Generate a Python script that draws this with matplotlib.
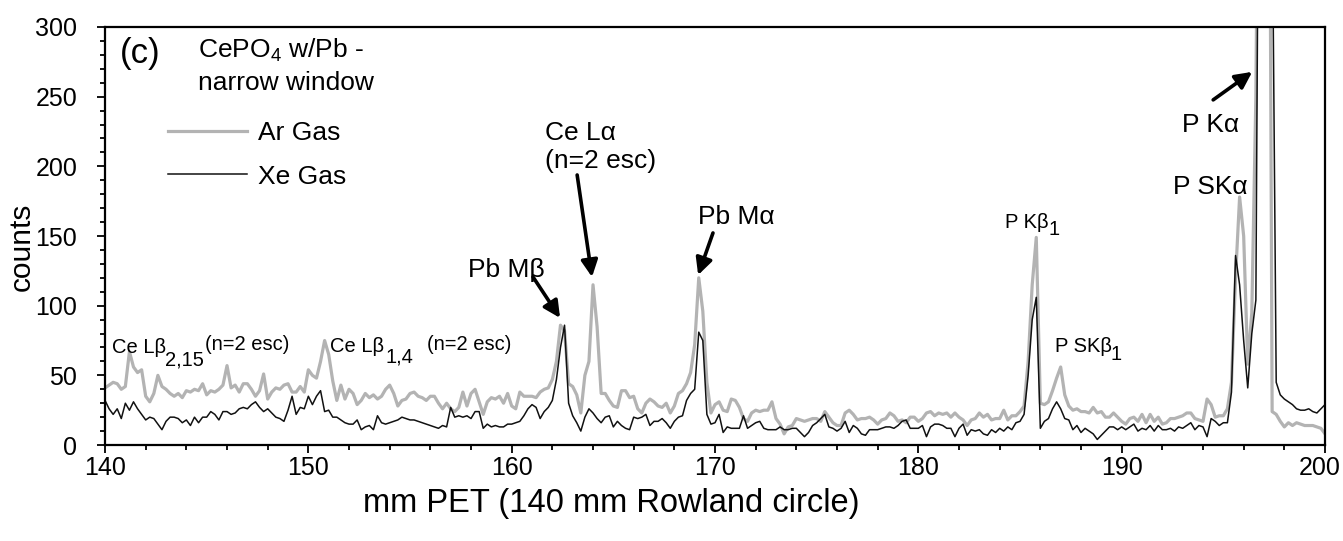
import numpy as np
import matplotlib
matplotlib.use("Agg")
import matplotlib.pyplot as plt
from matplotlib.ticker import MultipleLocator
from matplotlib.transforms import ScaledTranslation

plt.rcParams['font.family'] = ['Liberation Sans', 'DejaVu Sans']
plt.rcParams['mathtext.fontset'] = 'custom'
plt.rcParams['mathtext.rm'] = 'Liberation Sans'
plt.rcParams['mathtext.it'] = 'Liberation Sans'

# spectrometer position (mm PET), 0.2 mm steps from 140 to 200
x_mm = np.linspace(140, 200, 301)

# Ar gas counts
ar_gas = [
    41, 43, 45, 44, 40, 42, 67, 56, 52, 54,
    35, 31, 37, 50, 42, 40, 37, 35, 37, 34,
    39, 38, 40, 39, 44, 36, 39, 38, 40, 43,
    57, 41, 43, 38, 44, 44, 40, 35, 39, 51,
    33, 38, 41, 40, 43, 44, 38, 38, 42, 38,
    54, 50, 48, 60, 75, 65, 46, 32, 43, 33,
    40, 37, 29, 32, 37, 34, 36, 33, 35, 40,
    43, 37, 28, 32, 33, 37, 38, 35, 34, 32,
    35, 35, 30, 26, 30, 26, 24, 27, 38, 28,
    37, 40, 31, 22, 31, 34, 33, 35, 30, 37,
    28, 26, 38, 35, 35, 35, 34, 38, 40, 41,
    47, 60, 86, 82, 44, 42, 36, 23, 50, 60,
    115, 85, 37, 37, 32, 28, 27, 39, 39, 34,
    35, 26, 23, 30, 33, 31, 28, 27, 30, 23,
    28, 37, 39, 44, 52, 72, 120, 96, 45, 23,
    29, 31, 25, 24, 33, 32, 27, 19, 17, 23,
    25, 24, 25, 25, 31, 19, 15, 8, 13, 14,
    19, 18, 17, 18, 19, 19, 17, 24, 20, 16,
    14, 14, 23, 25, 22, 18, 19, 19, 20, 18,
    15, 18, 19, 23, 21, 17, 18, 16, 20, 20,
    17, 19, 23, 24, 21, 23, 22, 23, 20, 23,
    20, 18, 14, 18, 19, 23, 20, 22, 18, 19,
    19, 25, 18, 21, 21, 24, 28, 60, 115, 149,
    30, 29, 31, 39, 48, 56, 36, 28, 25, 26,
    24, 24, 23, 27, 23, 24, 20, 20, 23, 20,
    17, 15, 19, 20, 17, 22, 16, 22, 17, 20,
    15, 16, 19, 19, 20, 21, 23, 23, 19, 18,
    17, 33, 29, 20, 21, 21, 26, 45, 120, 178,
    150, 58, 95, 250, 600, 900, 700, 24, 22, 17,
    13, 16, 14, 16, 15, 14, 14, 14, 13, 12,
    8,
]

# Xe gas counts
xe_gas = [
    32, 26, 22, 26, 19, 30, 25, 31, 26, 22,
    18, 20, 19, 15, 11, 17, 20, 20, 19, 16,
    18, 14, 20, 16, 20, 20, 24, 22, 18, 24,
    24, 22, 23, 26, 27, 26, 29, 31, 27, 24,
    26, 23, 20, 19, 17, 25, 35, 22, 27, 26,
    35, 29, 35, 39, 24, 25, 20, 20, 18, 16,
    15, 15, 18, 11, 13, 14, 11, 21, 16, 15,
    16, 17, 18, 20, 19, 18, 18, 17, 16, 15,
    14, 13, 12, 14, 13, 27, 20, 21, 20, 21,
    19, 24, 24, 12, 15, 13, 14, 13, 13, 15,
    15, 16, 17, 21, 26, 29, 27, 19, 24, 27,
    32, 47, 70, 86, 30, 21, 16, 10, 20, 26,
    23, 19, 16, 20, 21, 13, 17, 14, 12, 11,
    20, 19, 20, 22, 14, 17, 17, 19, 16, 12,
    17, 20, 21, 32, 37, 40, 81, 75, 22, 15,
    16, 22, 9, 13, 12, 12, 12, 21, 12, 14,
    16, 17, 12, 11, 11, 11, 13, 11, 11, 12,
    12, 9, 6, 9, 14, 16, 19, 22, 13, 12,
    10, 12, 17, 9, 14, 12, 8, 7, 11, 11,
    11, 12, 13, 13, 12, 14, 17, 18, 12, 12,
    12, 14, 6, 13, 15, 15, 14, 12, 12, 6,
    12, 15, 7, 11, 10, 11, 8, 7, 11, 9,
    12, 10, 13, 11, 16, 17, 22, 50, 90, 106,
    12, 17, 19, 26, 31, 26, 19, 18, 11, 14,
    9, 12, 10, 8, 4, 7, 10, 13, 13, 11,
    13, 11, 13, 15, 10, 12, 11, 14, 10, 14,
    11, 11, 12, 10, 13, 12, 14, 16, 11, 14,
    13, 6, 19, 17, 14, 16, 16, 38, 136, 115,
    75, 41, 80, 104, 600, 900, 800, 400, 45, 36,
    33, 31, 29, 26, 25, 25, 26, 24, 23, 26,
    29,
]

fig = plt.figure(figsize=(13.43, 5.41), dpi=100)
ax = fig.add_axes([0.0782, 0.1774, 0.9084, 0.7727])

ax.plot(x_mm, ar_gas, color='#b3b3b3', lw=2.3, label='Ar Gas')
ax.plot(x_mm, xe_gas, color='#111111', lw=1.1, label='Xe Gas')

ax.set_xlim(140, 200)
ax.set_ylim(0, 300)
ax.set_xticks([140, 150, 160, 170, 180, 190, 200])
ax.xaxis.set_minor_locator(MultipleLocator(2))
ax.yaxis.set_major_locator(MultipleLocator(50))
ax.yaxis.set_minor_locator(MultipleLocator(10))
ax.tick_params(which='both', direction='out', width=1.3, labelsize=18)
ax.tick_params(which='major', length=6)
ax.tick_params(which='minor', length=3.5)
ax.tick_params(axis='y', pad=14)
ax.tick_params(axis='x', pad=2)
for s in ax.spines.values():
    s.set_linewidth(1.6)

# keep the last x label inside the figure edge
last = ax.get_xticklabels()[-1]
last.set_transform(last.get_transform() + ScaledTranslation(-4 / 72, 0, fig.dpi_scale_trans))

ax.set_xlabel('mm PET (140 mm Rowland circle)', fontsize=23.5, va='center')
ax.xaxis.set_label_coords(0.415, -0.14)
ax.set_ylabel('counts', fontsize=21.5, va='center')
ax.yaxis.set_label_coords(-0.068, 0.474)

ax.legend(loc='upper left', bbox_to_anchor=(0.0516, 0.775), frameon=False,
          fontsize=19, handlelength=3.0, handletextpad=0.42,
          labelspacing=0.74, borderpad=0, borderaxespad=0)

big = 19
small = 14.5
ax.text(140.74, 274, '(c)', fontsize=25)
ax.text(144.57, 277.8, 'CePO$_4$ w/Pb -', fontsize=big)
ax.text(144.57, 255, 'narrow window', fontsize=big)

# peak labels
ax.text(140.33, 66, 'Ce L\u03b2', fontsize=small)
ax.text(142.95, 57.4, '2,15', fontsize=small)
ax.text(144.92, 68, '(n=2 esc)', fontsize=small)
ax.text(151.07, 67, 'Ce L\u03b2', fontsize=small)
ax.text(153.77, 59, '1,4', fontsize=small)
ax.text(155.84, 68, '(n=2 esc)', fontsize=small)
ax.text(184.27, 155.8, 'P K\u03b2', fontsize=small)
ax.text(186.38, 150.8, '1', fontsize=small)
ax.text(186.73, 66.8, 'P SK\u03b2', fontsize=small)
ax.text(189.45, 61, '1', fontsize=small)

ax.text(157.86, 120.6, 'Pb M\u03b2', fontsize=big)
ax.text(161.64, 219, 'Ce L\u03b1', fontsize=big)
ax.text(161.64, 198.9, '(n=2 esc)', fontsize=big)
ax.text(169.17, 158.7, 'Pb M\u03b1', fontsize=big)
ax.text(192.53, 180.2, 'P SK\u03b1', fontsize=big)
ax.text(192.98, 224.7, 'P K\u03b1', fontsize=big)

arrow = dict(arrowstyle='-|>', color='black', lw=2.6, mutation_scale=25,
             shrinkA=0, shrinkB=0)
ax.annotate('', xy=(162.38, 91.2), xytext=(161.05, 120.6), arrowprops=arrow)
ax.annotate('', xy=(163.95, 120.6), xytext=(163.22, 193.8), arrowprops=arrow)
ax.annotate('', xy=(169.17, 122), xytext=(169.9, 152.2), arrowprops=arrow)
ax.annotate('', xy=(196.42, 267.8), xytext=(194.5, 247.7), arrowprops=arrow)

fig.savefig('out.png', dpi=100)
